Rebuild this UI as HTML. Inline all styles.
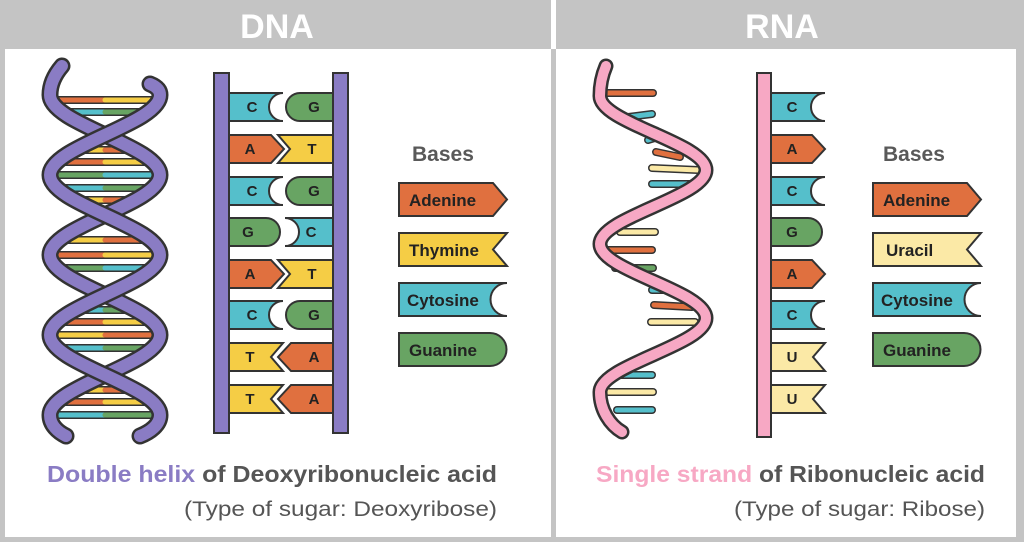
<!DOCTYPE html>
<html><head><meta charset="utf-8"><style>
html,body{margin:0;padding:0;background:#fff;}
svg{display:block;font-family:"Liberation Sans",sans-serif;}
</style></head><body>
<svg width="1024" height="542" viewBox="0 0 1024 542" xmlns="http://www.w3.org/2000/svg">
<!-- frame -->
<rect x="0" y="0" width="1024" height="542" fill="#c4c4c4"/>
<rect x="5" y="49" width="546" height="488" fill="#fff"/>
<rect x="556" y="49" width="460" height="488" fill="#fff"/>
<rect x="551" y="0" width="5" height="49" fill="#fff"/>
<text x="277" y="38" font-size="34" font-weight="bold" fill="#fff" text-anchor="middle">DNA</text>
<text x="782" y="38" font-size="34" font-weight="bold" fill="#fff" text-anchor="middle">RNA</text>

<!-- DNA helix rungs -->
<g stroke-linecap="round">
<g stroke="#333" stroke-width="8">
<line x1="51" y1="100" x2="159" y2="100"/><line x1="62" y1="112" x2="148" y2="112"/>
<line x1="74" y1="150" x2="136" y2="150"/><line x1="57" y1="162" x2="153" y2="162"/>
<line x1="50" y1="175" x2="160" y2="175"/><line x1="57" y1="188" x2="153" y2="188"/>
<line x1="74" y1="200" x2="136" y2="200"/><line x1="59" y1="240" x2="151" y2="240"/>
<line x1="50" y1="255" x2="160" y2="255"/><line x1="57" y1="268" x2="153" y2="268"/>
<line x1="74" y1="310" x2="136" y2="310"/><line x1="57" y1="322" x2="153" y2="322"/>
<line x1="50" y1="335" x2="160" y2="335"/><line x1="57" y1="348" x2="153" y2="348"/>
<line x1="74" y1="390" x2="136" y2="390"/><line x1="57" y1="402" x2="153" y2="402"/>
<line x1="50" y1="415" x2="160" y2="415"/>
</g>
<g stroke-width="5">
<line x1="51" y1="100" x2="105" y2="100" stroke="#e0703f"/><line x1="105" y1="100" x2="159" y2="100" stroke="#f5cd45"/>
<line x1="62" y1="112" x2="105" y2="112" stroke="#55bfcb"/><line x1="105" y1="112" x2="148" y2="112" stroke="#68a463"/>
<line x1="74" y1="150" x2="105" y2="150" stroke="#f5cd45"/><line x1="105" y1="150" x2="136" y2="150" stroke="#e0703f"/>
<line x1="57" y1="162" x2="105" y2="162" stroke="#e0703f"/><line x1="105" y1="162" x2="153" y2="162" stroke="#f5cd45"/>
<line x1="50" y1="175" x2="105" y2="175" stroke="#68a463"/><line x1="105" y1="175" x2="160" y2="175" stroke="#55bfcb"/>
<line x1="57" y1="188" x2="105" y2="188" stroke="#55bfcb"/><line x1="105" y1="188" x2="153" y2="188" stroke="#68a463"/>
<line x1="74" y1="200" x2="105" y2="200" stroke="#f5cd45"/><line x1="105" y1="200" x2="136" y2="200" stroke="#e0703f"/>
<line x1="59" y1="240" x2="105" y2="240" stroke="#f5cd45"/><line x1="105" y1="240" x2="151" y2="240" stroke="#e0703f"/>
<line x1="50" y1="255" x2="105" y2="255" stroke="#e0703f"/><line x1="105" y1="255" x2="160" y2="255" stroke="#f5cd45"/>
<line x1="57" y1="268" x2="105" y2="268" stroke="#68a463"/><line x1="105" y1="268" x2="153" y2="268" stroke="#55bfcb"/>
<line x1="74" y1="310" x2="105" y2="310" stroke="#55bfcb"/><line x1="105" y1="310" x2="136" y2="310" stroke="#68a463"/>
<line x1="57" y1="322" x2="105" y2="322" stroke="#e0703f"/><line x1="105" y1="322" x2="153" y2="322" stroke="#f5cd45"/>
<line x1="50" y1="335" x2="105" y2="335" stroke="#f5cd45"/><line x1="105" y1="335" x2="160" y2="335" stroke="#e0703f"/>
<line x1="57" y1="348" x2="105" y2="348" stroke="#55bfcb"/><line x1="105" y1="348" x2="153" y2="348" stroke="#68a463"/>
<line x1="74" y1="390" x2="105" y2="390" stroke="#f5cd45"/><line x1="105" y1="390" x2="136" y2="390" stroke="#e0703f"/>
<line x1="57" y1="402" x2="105" y2="402" stroke="#e0703f"/><line x1="105" y1="402" x2="153" y2="402" stroke="#f5cd45"/>
<line x1="50" y1="415" x2="105" y2="415" stroke="#55bfcb"/><line x1="105" y1="415" x2="160" y2="415" stroke="#68a463"/>
</g>
</g>
<!-- DNA strands -->
<g fill="none" stroke-linecap="round">
<path d="M62 66 Q50 80 50 95 C50 124 160 146 160 175 C160 204 50 226 50 255 C50 284 160 306 160 335 C160 364 50 386 50 415 C50 425 58 432 66 436" stroke="#333" stroke-width="17"/>
<path d="M62 66 Q50 80 50 95 C50 124 160 146 160 175 C160 204 50 226 50 255 C50 284 160 306 160 335 C160 364 50 386 50 415 C50 425 58 432 66 436" stroke="#8a7cc4" stroke-width="12"/>
<path d="M150 84 Q160 88 160 95 C160 124 50 146 50 175 C50 204 160 226 160 255 C160 284 50 306 50 335 C50 364 160 386 160 415 C160 425 150 432 140 436" stroke="#333" stroke-width="17"/>
<path d="M150 84 Q160 88 160 95 C160 124 50 146 50 175 C50 204 160 226 160 255 C160 284 50 306 50 335 C50 364 160 386 160 415 C160 425 150 432 140 436" stroke="#8a7cc4" stroke-width="12"/>
</g>

<!-- DNA ladder -->
<g stroke="#333" stroke-width="2">
<rect x="214" y="73" width="15" height="360" fill="#8a7cc4"/>
<rect x="333" y="73" width="15" height="360" fill="#8a7cc4"/>
<!-- row1 C G t=93 -->
<path d="M229 93 H283 A14 14 0 0 0 283 121 H229 Z" fill="#55bfcb"/>
<path d="M333 93 H300 A14 14 0 0 0 300 121 H333 Z" fill="#68a463"/>
<!-- row2 A T t=135 -->
<path d="M229 135 H271 L284 149 L271 163 H229 Z" fill="#e0703f"/>
<path d="M333 135 H278 L290 149 L278 163 H333 Z" fill="#f5cd45"/>
<!-- row3 C G t=177 -->
<path d="M229 177 H283 A14 14 0 0 0 283 205 H229 Z" fill="#55bfcb"/>
<path d="M333 177 H300 A14 14 0 0 0 300 205 H333 Z" fill="#68a463"/>
<!-- row4 G C t=218 -->
<path d="M229 218 H266 A14 14 0 0 1 266 246 H229 Z" fill="#68a463"/>
<path d="M333 218 H285 A14 14 0 0 1 285 246 H333 Z" fill="#55bfcb"/>
<!-- row5 A T t=260 -->
<path d="M229 260 H271 L284 274 L271 288 H229 Z" fill="#e0703f"/>
<path d="M333 260 H278 L290 274 L278 288 H333 Z" fill="#f5cd45"/>
<!-- row6 C G t=301 -->
<path d="M229 301 H283 A14 14 0 0 0 283 329 H229 Z" fill="#55bfcb"/>
<path d="M333 301 H300 A14 14 0 0 0 300 329 H333 Z" fill="#68a463"/>
<!-- row7 T A t=343 -->
<path d="M229 343 H283 L271 357 L283 371 H229 Z" fill="#f5cd45"/>
<path d="M333 343 H291 L278 357 L291 371 H333 Z" fill="#e0703f"/>
<!-- row8 T A t=385 -->
<path d="M229 385 H283 L271 399 L283 413 H229 Z" fill="#f5cd45"/>
<path d="M333 385 H291 L278 399 L291 413 H333 Z" fill="#e0703f"/>
</g>
<g font-size="15" font-weight="bold" fill="#222" text-anchor="middle">
<text x="252" y="112">C</text><text x="314" y="112">G</text>
<text x="250" y="154">A</text><text x="312" y="154">T</text>
<text x="252" y="196">C</text><text x="314" y="196">G</text>
<text x="248" y="237">G</text><text x="311" y="237">C</text>
<text x="250" y="279">A</text><text x="312" y="279">T</text>
<text x="252" y="320">C</text><text x="314" y="320">G</text>
<text x="250" y="362">T</text><text x="314" y="362">A</text>
<text x="250" y="404">T</text><text x="314" y="404">A</text>
</g>

<!-- DNA legend -->
<text x="412" y="161" font-size="21" font-weight="bold" fill="#595959">Bases</text>
<g stroke="#333" stroke-width="2">
<path d="M399 183 H493 L507 199.5 L493 216 H399 Z" fill="#e0703f"/>
<path d="M399 233 H507 L493 249.5 L507 266 H399 Z" fill="#f5cd45"/>
<path d="M399 283 H507 A16.5 16.5 0 0 0 507 316 H399 Z" fill="#55bfcb"/>
<path d="M399 333 H490 A16.5 16.5 0 0 1 490 366 H399 Z" fill="#68a463"/>
</g>
<g font-size="17" font-weight="bold" fill="#222">
<text x="409" y="206">Adenine</text>
<text x="409" y="256">Thymine</text>
<text x="407" y="306">Cytosine</text>
<text x="409" y="356">Guanine</text>
</g>

<!-- RNA rungs -->
<g stroke-linecap="round">
<g stroke="#333" stroke-width="8">
<line x1="607" y1="93" x2="653" y2="93"/><line x1="620" y1="118" x2="652" y2="114"/>
<line x1="648" y1="140" x2="658" y2="137"/><line x1="656" y1="152" x2="680" y2="157"/>
<line x1="652" y1="168" x2="698" y2="170"/><line x1="652" y1="184" x2="690" y2="184"/>
<line x1="620" y1="232" x2="655" y2="232"/><line x1="607" y1="250" x2="652" y2="250"/>
<line x1="615" y1="268" x2="653" y2="268"/><line x1="652" y1="290" x2="664" y2="290"/>
<line x1="654" y1="305" x2="692" y2="307"/><line x1="651" y1="322" x2="695" y2="322"/>
<line x1="620" y1="375" x2="652" y2="375"/><line x1="608" y1="392" x2="653" y2="392"/>
<line x1="617" y1="410" x2="652" y2="410"/>
</g>
<g stroke-width="5">
<line x1="607" y1="93" x2="653" y2="93" stroke="#e0703f"/><line x1="620" y1="118" x2="652" y2="114" stroke="#55bfcb"/>
<line x1="648" y1="140" x2="658" y2="137" stroke="#55bfcb"/><line x1="656" y1="152" x2="680" y2="157" stroke="#e0703f"/>
<line x1="652" y1="168" x2="698" y2="170" stroke="#fbe9a6"/><line x1="652" y1="184" x2="690" y2="184" stroke="#55bfcb"/>
<line x1="620" y1="232" x2="655" y2="232" stroke="#fbe9a6"/><line x1="607" y1="250" x2="652" y2="250" stroke="#e0703f"/>
<line x1="615" y1="268" x2="653" y2="268" stroke="#68a463"/><line x1="652" y1="290" x2="664" y2="290" stroke="#55bfcb"/>
<line x1="654" y1="305" x2="692" y2="307" stroke="#e0703f"/><line x1="651" y1="322" x2="695" y2="322" stroke="#fbe9a6"/>
<line x1="620" y1="375" x2="652" y2="375" stroke="#55bfcb"/><line x1="608" y1="392" x2="653" y2="392" stroke="#fbe9a6"/>
<line x1="617" y1="410" x2="652" y2="410" stroke="#55bfcb"/>
</g>
</g>
<!-- RNA strand -->
<g fill="none" stroke-linecap="round">
<path d="M606 66 Q600 80 600 96 C600 123 706 143 706 170 C706 197 600 217 600 244 C600 271 706 291 706 318 C706 345 600 365 600 392 C600 410 610 425 622 432" stroke="#333" stroke-width="15"/>
<path d="M606 66 Q600 80 600 96 C600 123 706 143 706 170 C706 197 600 217 600 244 C600 271 706 291 706 318 C706 345 600 365 600 392 C600 410 610 425 622 432" stroke="#f7a8c4" stroke-width="10"/>
</g>

<!-- RNA strand ladder -->
<g stroke="#333" stroke-width="2">
<rect x="757" y="73" width="14" height="364" fill="#f7a8c4"/>
<path d="M771 93 H825 A14 14 0 0 0 825 121 H771 Z" fill="#55bfcb"/>
<path d="M771 135 H812 L825 149 L812 163 H771 Z" fill="#e0703f"/>
<path d="M771 177 H825 A14 14 0 0 0 825 205 H771 Z" fill="#55bfcb"/>
<path d="M771 218 H808 A14 14 0 0 1 808 246 H771 Z" fill="#68a463"/>
<path d="M771 260 H812 L825 274 L812 288 H771 Z" fill="#e0703f"/>
<path d="M771 301 H825 A14 14 0 0 0 825 329 H771 Z" fill="#55bfcb"/>
<path d="M771 343 H825 L813 357 L825 371 H771 Z" fill="#fbe9a6"/>
<path d="M771 385 H825 L813 399 L825 413 H771 Z" fill="#fbe9a6"/>
</g>
<g font-size="15" font-weight="bold" fill="#222" text-anchor="middle">
<text x="792" y="112">C</text><text x="792" y="154">A</text><text x="792" y="196">C</text>
<text x="792" y="237">G</text><text x="792" y="279">A</text><text x="792" y="320">C</text>
<text x="792" y="362">U</text><text x="792" y="404">U</text>
</g>

<!-- RNA legend -->
<text x="883" y="161" font-size="21" font-weight="bold" fill="#595959">Bases</text>
<g stroke="#333" stroke-width="2">
<path d="M873 183 H967 L981 199.5 L967 216 H873 Z" fill="#e0703f"/>
<path d="M873 233 H981 L967 249.5 L981 266 H873 Z" fill="#fbe9a6"/>
<path d="M873 283 H981 A16.5 16.5 0 0 0 981 316 H873 Z" fill="#55bfcb"/>
<path d="M873 333 H964 A16.5 16.5 0 0 1 964 366 H873 Z" fill="#68a463"/>
</g>
<g font-size="17" font-weight="bold" fill="#222">
<text x="883" y="206">Adenine</text>
<text x="886" y="256">Uracil</text>
<text x="881" y="306">Cytosine</text>
<text x="883" y="356">Guanine</text>
</g>

<!-- captions -->
<text x="47" y="482" font-size="23" font-weight="bold" fill="#555" textLength="450" lengthAdjust="spacingAndGlyphs"><tspan fill="#8a7cc4">Double helix</tspan> of Deoxyribonucleic acid</text>
<text x="184" y="516" font-size="21" fill="#555" textLength="313" lengthAdjust="spacingAndGlyphs">(Type of sugar: Deoxyribose)</text>
<text x="596" y="482" font-size="23" font-weight="bold" fill="#555" textLength="389" lengthAdjust="spacingAndGlyphs"><tspan fill="#f7a8c4">Single strand</tspan> of Ribonucleic acid</text>
<text x="734" y="516" font-size="21" fill="#555" textLength="251" lengthAdjust="spacingAndGlyphs">(Type of sugar: Ribose)</text>
</svg>
</body></html>
